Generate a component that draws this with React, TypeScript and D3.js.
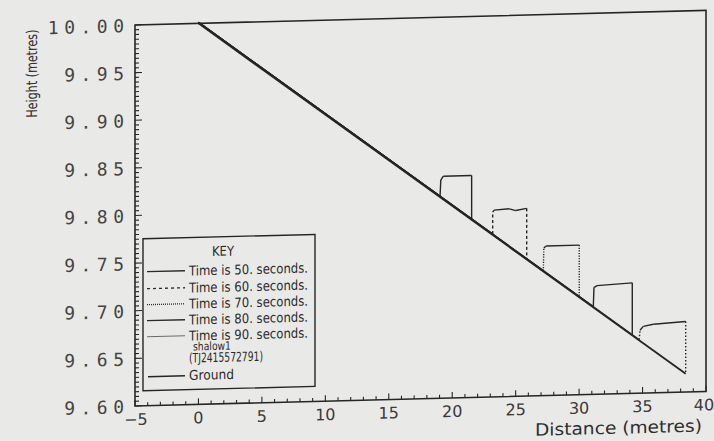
import React from "react";
import * as d3 from "d3";

// ---- data ----
const xTickValues = [-5, 0, 5, 10, 15, 20, 25, 30, 35, 40];
const xTickLabels = ["−5", "0", "5", "10", "15", "20", "25", "30", "35", "40"];
const yTickValues = [9.6, 9.65, 9.7, 9.75, 9.8, 9.85, 9.9, 9.95, 10.0];
const yTickLabels = ["9.60", "9.65", "9.70", "9.75", "9.80", "9.85", "9.90", "9.95", "10.00"];

const ground: [number, number][] = [[0, 10.0], [38.4, 9.619]];
const time50: [number, number][] = [[0, 10.001], [19.04, 9.812], [19.1, 9.829], [19.3, 9.833], [21.53, 9.833], [21.53, 9.786]];
const time60: [number, number][] = [[0, 10.001], [23.19, 9.771], [23.19, 9.794], [23.3, 9.796], [24.5, 9.797], [25.0, 9.795], [25.87, 9.797], [25.87, 9.744]];
const time70: [number, number][] = [[0, 10.001], [27.18, 9.731], [27.22, 9.755], [27.4, 9.757], [30.01, 9.757], [30.01, 9.703]];
const time80: [number, number][] = [[0, 10.001], [31.12, 9.692], [31.17, 9.712], [31.4, 9.714], [34.19, 9.716], [34.19, 9.662]];
const time90: [number, number][] = [[0, 10.001], [34.74, 9.656], [34.8, 9.666], [35.06, 9.67], [35.85, 9.672], [38.4, 9.674], [38.4, 9.62]];

const seriesNames = ["Time is 50. seconds.", "Time is 60. seconds.", "Time is 70. seconds.", "Time is 80. seconds.", "Time is 90. seconds."];
const seriesData = [time50, time60, time70, time80, time90];
const seriesDash = ["", "3,2.5", "1.2,1.4", "", "1.5,2"];
const seriesLegendDash = ["", "3,3", "1,1", "", ""];
const seriesLegendColor = ["#2a2a2a", "#2a2a2a", "#2a2a2a", "#2a2a2a", "#6a6a6a"];

// ---- layout ----
const W = 714, H = 441;
const L = 135, R = 706, T = 25, B = 406;
const INK = "#262626";
const FONT = "'DejaVu Sans', sans-serif";

export default function App() {
  const x = d3.scaleLinear().domain([-5, 40]).range([L, R]);
  const y = d3.scaleLinear().domain([9.6, 10.0]).range([B, T]);
  const line = d3.line<[number, number]>().x(d => x(d[0])).y(d => y(d[1]));

  const xMinor = d3.range(-5, 40.01, 1);
  const yMinor = d3.range(0, 81).map(i => 9.6 + i * 0.005);

  const segs: JSX.Element[] = [];
  seriesData.forEach((s, si) => {
    for (let i = 0; i < s.length - 1; i++) {
      const x1 = x(s[i][0]), y1 = y(s[i][1]), x2 = x(s[i + 1][0]), y2 = y(s[i + 1][1]);
      const vertical = Math.abs(x2 - x1) < 2;
      segs.push(
        <line key={si + "-" + i} x1={x1} y1={y1} x2={x2} y2={y2}
          stroke={INK} strokeWidth={1.4}
          strokeDasharray={vertical ? seriesDash[si] : ""} />
      );
    }
  });

  const legX = 143, legY = 239, legW = 172, legH = 152;
  const rowY = [272, 289, 305, 321, 337];

  return (
    <svg width={W} height={H} style={{ position: "absolute", left: 0, top: 0 }}>
      <rect x={0} y={0} width={W} height={H} fill="#e9e9e7" />
      <g transform={`matrix(1,-0.0255,0,1,0,${0.0255 * 135})`}>
        {/* ticks */}
        {xMinor.map((v, i) => {
          const major = Math.abs(v % 5) < 1e-6;
          return <line key={"xm" + i} x1={x(v)} x2={x(v)} y1={B} y2={B - (major ? 6 : 3.5)} stroke={INK} strokeWidth={1.1} />;
        })}
        {yMinor.map((v, i) => {
          const major = i % 10 === 0;
          return <line key={"ym" + i} x1={L} x2={L + (major ? 7 : 4)} y1={y(v)} y2={y(v)} stroke={INK} strokeWidth={1.1} />;
        })}
        {/* frame */}
        <rect x={L} y={T} width={R - L} height={B - T} fill="none" stroke={INK} strokeWidth={1.6} />
        {/* ground */}
        <path d={line(ground) || ""} fill="none" stroke={INK} strokeWidth={1.8} />
        {segs}
        {/* tick labels */}
        {yTickValues.map((v, i) => (
          <text key={"yl" + i} x={129.5} y={y(v) + 7} textAnchor="end" fontFamily="'DejaVu Sans Mono', monospace"
            fontSize={18} letterSpacing={5.5} fill="#444">{yTickLabels[i]}</text>
        ))}
        {xTickValues.map((v, i) => (
          <text key={"xl" + i} x={x(v) + (i === 0 ? 1 : i === xTickValues.length - 1 ? -2 : 0)} y={425} textAnchor="middle" fontFamily={FONT}
            fontSize={16} fill="#3a3a3a">{xTickLabels[i]}</text>
        ))}
        {/* axis titles */}
        <text x={535} y={446} fontFamily={FONT} fontSize={17} textLength={167} lengthAdjust="spacingAndGlyphs" fill="#2e2e2e">Distance (metres)</text>
        <text transform="translate(37,71) rotate(-90)" textAnchor="middle" fontFamily={FONT} fontSize={15}
          textLength={88} lengthAdjust="spacingAndGlyphs" fill="#2e2e2e">Height (metres)</text>
        {/* legend */}
        <rect x={legX} y={legY} width={legW} height={legH} fill="#e9e9e7" stroke={INK} strokeWidth={1.4} />
        <text x={223} y={258} textAnchor="middle" fontFamily={FONT} fontSize={13.5} textLength={22} lengthAdjust="spacingAndGlyphs" fill="#2a2a2a">KEY</text>
        {seriesNames.map((n, i) => (
          <g key={"lg" + i}>
            <line x1={147} x2={185} y1={rowY[i]} y2={rowY[i]} stroke={seriesLegendColor[i]} strokeWidth={i === 4 ? 1 : 1.3} strokeDasharray={seriesLegendDash[i]} />
            <text x={189} y={rowY[i] + 5} fontFamily={FONT} fontSize={13.5} textLength={119} lengthAdjust="spacingAndGlyphs" fill="#2a2a2a">{n}</text>
          </g>
        ))}
        <text x={193} y={352} fontFamily={FONT} fontSize={11.5} textLength={38} lengthAdjust="spacingAndGlyphs" fill="#2a2a2a">shalow1</text>
        <text x={189} y={364} fontFamily={FONT} fontSize={13} textLength={74} lengthAdjust="spacingAndGlyphs" fill="#2a2a2a">(TJ2415572791)</text>
        <line x1={148} x2={185} y1={377} y2={377} stroke={INK} strokeWidth={1.5} />
        <text x={189} y={381.5} fontFamily={FONT} fontSize={13.5} textLength={45} lengthAdjust="spacingAndGlyphs" fill="#2a2a2a">Ground</text>
      </g>
    </svg>
  );
}
